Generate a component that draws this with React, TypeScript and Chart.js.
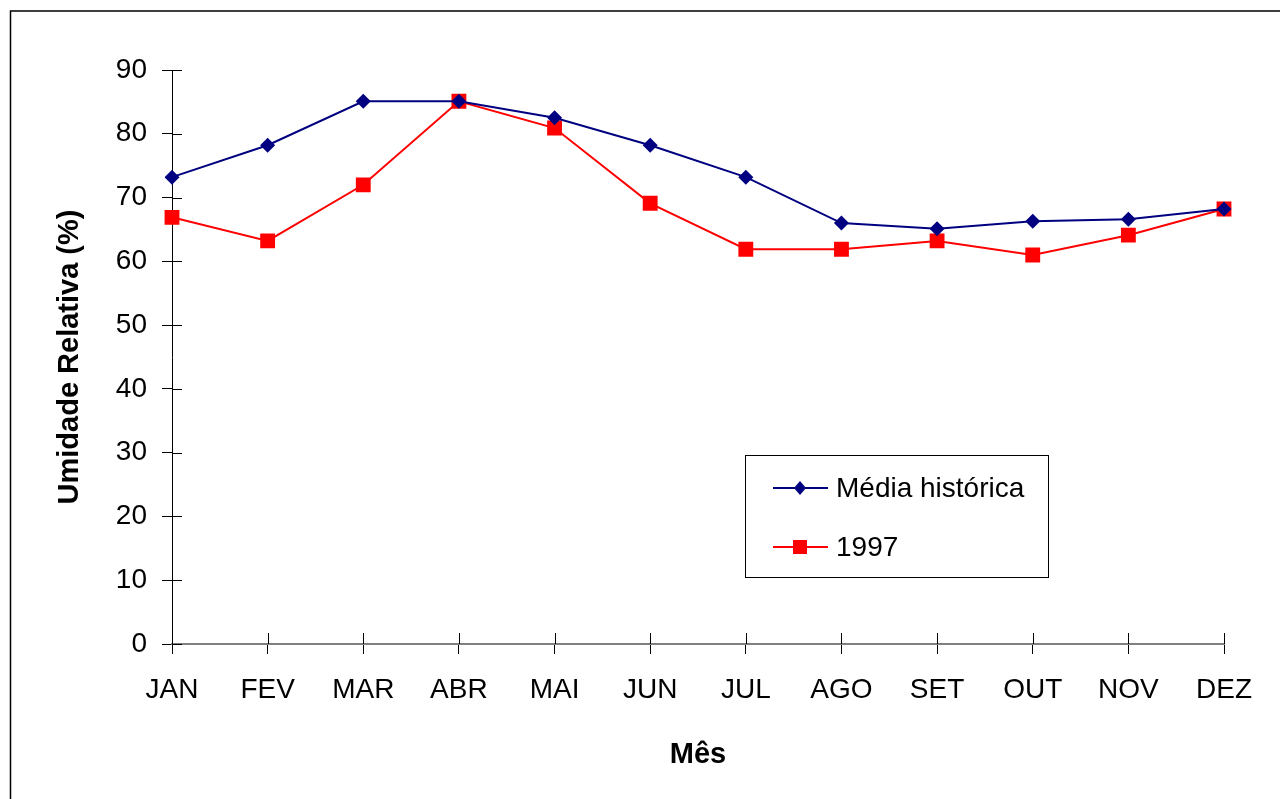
import React, { useEffect, useRef } from "react";
import { Chart, registerables } from "chart.js";

Chart.register(...registerables);

const months = ["JAN", "FEV", "MAR", "ABR", "MAI", "JUN", "JUL", "AGO", "SET", "OUT", "NOV", "DEZ"];
const mediaHistorica = [73.2, 78.2, 85.1, 85.1, 82.5, 78.2, 73.2, 66.0, 65.1, 66.3, 66.6, 68.2];
const ano1997 = [66.9, 63.2, 72.0, 85.1, 80.9, 69.1, 61.9, 61.9, 63.2, 61.0, 64.1, 68.2];
const seriesNames = ["Média histórica", "1997"];
const yMin = 0;
const yMax = 90;
const yStep = 10;

const FONT = '"Liberation Sans", Arial, sans-serif';
const NAVY = "#000080";
const RED = "#FF0000";

const framePlugin = {
  id: "frame",
  beforeDraw(chart: any) {
    const ctx = chart.ctx;
    ctx.save();
    ctx.fillStyle = "#ffffff";
    ctx.fillRect(0, 0, chart.width, chart.height);
    ctx.restore();
  },
  afterDraw(chart: any) {
    const ctx = chart.ctx;
    const { left, top, bottom } = chart.chartArea;
    ctx.save();
    // outer frame (right / bottom lie outside the picture)
    ctx.strokeStyle = "#000";
    ctx.lineWidth = 1.5;
    ctx.strokeRect(10.5, 11, chart.width + 40, chart.height + 40);

    // inner halves of the crossing tick marks
    ctx.lineWidth = 1;
    ctx.strokeStyle = "#000";
    const ys = chart.scales.y;
    ys.ticks.forEach((_t: any, i: number) => {
      const py = Math.round(ys.getPixelForTick(i)) + 0.5;
      ctx.beginPath();
      ctx.moveTo(left, py);
      ctx.lineTo(left + 10, py);
      ctx.stroke();
    });
    const xs = chart.scales.x;
    xs.ticks.forEach((_t: any, i: number) => {
      const px = Math.round(xs.getPixelForTick(i)) + 0.5;
      ctx.beginPath();
      ctx.moveTo(px, bottom);
      ctx.lineTo(px, bottom - 11);
      ctx.stroke();
    });

    // legend box
    const bx = left + (745 - 172);
    const by = top + (455 - 70);
    const bw = 303;
    const bh = 122;
    ctx.fillStyle = "#fff";
    ctx.fillRect(bx, by, bw, bh);
    ctx.strokeStyle = "#000";
    ctx.lineWidth = 1;
    ctx.strokeRect(bx + 0.5, by + 0.5, bw, bh);

    const rows = [
      { label: seriesNames[0], color: NAVY, marker: "diamond", y: by + 33 },
      { label: seriesNames[1], color: RED, marker: "square", y: by + 92 },
    ];
    rows.forEach((r) => {
      ctx.strokeStyle = r.color;
      ctx.lineWidth = 2;
      ctx.beginPath();
      ctx.moveTo(bx + 28, r.y);
      ctx.lineTo(bx + 83, r.y);
      ctx.stroke();
      ctx.fillStyle = r.color;
      const cx = bx + 55;
      if (r.marker === "diamond") {
        ctx.beginPath();
        ctx.moveTo(cx, r.y - 7);
        ctx.lineTo(cx + 6, r.y);
        ctx.lineTo(cx, r.y + 7);
        ctx.lineTo(cx - 6, r.y);
        ctx.closePath();
        ctx.fill();
      } else {
        ctx.fillRect(cx - 7, r.y - 7, 14, 14);
      }
      ctx.fillStyle = "#000";
      ctx.font = `28px ${FONT}`;
      ctx.textBaseline = "middle";
      ctx.textAlign = "left";
      ctx.fillText(r.label, bx + 91, r.y + 1);
    });
    ctx.restore();
  },
};

export default function App() {
  const ref = useRef<HTMLCanvasElement | null>(null);

  useEffect(() => {
    document.body.style.margin = "0";
    const canvas = ref.current;
    if (!canvas) return;
    Chart.defaults.font.family = FONT;
    const chart = new Chart(canvas, {
      type: "line",
      data: {
        labels: months,
        datasets: [
          {
            label: seriesNames[0],
            data: mediaHistorica,
            borderColor: NAVY,
            backgroundColor: NAVY,
            borderWidth: 2,
            pointStyle: "rectRot",
            pointRadius: 7.5,
            pointBorderWidth: 0,
            tension: 0,
          },
          {
            label: seriesNames[1],
            data: ano1997,
            borderColor: RED,
            backgroundColor: RED,
            borderWidth: 2,
            pointStyle: "rect",
            pointRadius: 10.5,
            pointBorderWidth: 0,
            tension: 0,
          },
        ],
      },
      options: {
        animation: false,
        responsive: false,
        devicePixelRatio: 1,
        layout: { padding: { left: 0, top: 70, right: 56, bottom: 0 } },
        plugins: {
          legend: { display: false },
          tooltip: { enabled: false },
          title: { display: false },
        },
        scales: {
          x: {
            type: "category",
            offset: false,
            grid: {
              display: true,
              drawOnChartArea: false,
              drawTicks: true,
              tickLength: 10,
              color: "#000",
            },
            border: { display: true, color: "#808080", width: 2 },
            ticks: {
              color: "#000",
              font: { size: 28, family: FONT },
              padding: 19,
              maxRotation: 0,
              autoSkip: false,
            },
            title: {
              display: true,
              text: "Mês",
              color: "#000",
              font: { size: 29, weight: "bold", family: FONT },
              padding: { top: 0, bottom: 27 },
            },
            afterFit(scale: any) {
              scale.height = 155;
            },
          },
          y: {
            min: yMin,
            max: yMax,
            grid: {
              display: true,
              drawOnChartArea: false,
              drawTicks: true,
              tickLength: 10,
              color: "#000",
            },
            border: { display: true, color: "#000", width: 1 },
            ticks: {
              stepSize: yStep,
              color: "#000",
              font: { size: 28, family: FONT },
              padding: 15,
            },
            title: {
              display: true,
              text: "Umidade Relativa (%)",
              color: "#000",
              font: { size: 29, weight: "bold", family: FONT },
              padding: { top: 53, bottom: 0 },
            },
            afterFit(scale: any) {
              scale.width = 172;
            },
          },
        },
      },
      plugins: [framePlugin],
    } as any);
    return () => chart.destroy();
  }, []);

  return (
    <div style={{ width: 1280, height: 799, overflow: "hidden" }}>
      <canvas ref={ref} width={1280} height={799} style={{ display: "block", width: 1280, height: 799 }} />
    </div>
  );
}
